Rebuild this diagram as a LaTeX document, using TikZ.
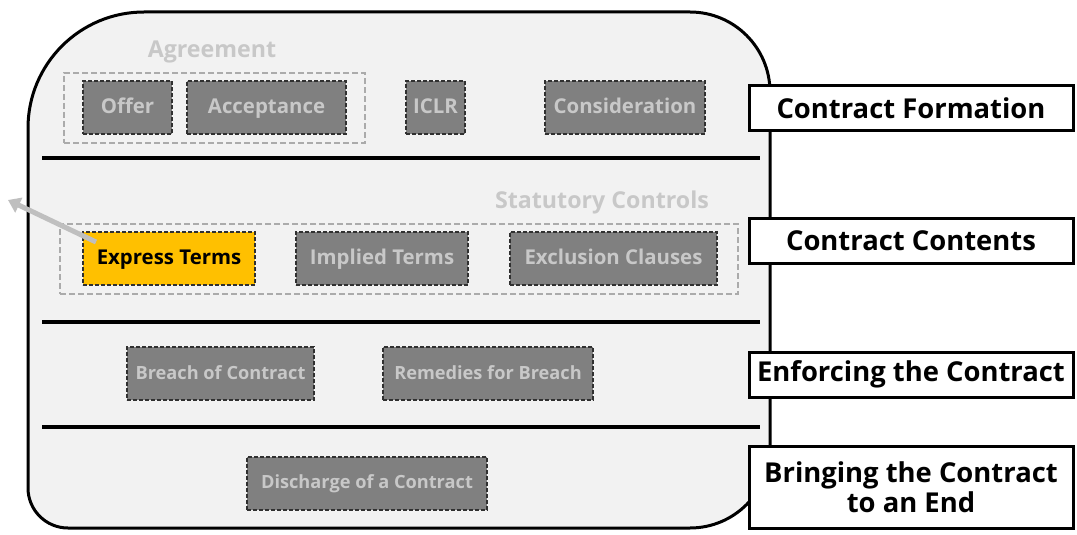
\documentclass[tikz,border=0pt]{standalone}
\usepackage{fontspec}
\setmainfont{Open Sans}
\usetikzlibrary{arrows.meta}
\definecolor{panelgray}{HTML}{F2F2F2}
\definecolor{itemgray}{HTML}{808080}
\definecolor{itemtext}{HTML}{C8C8C8}
\definecolor{itemedge}{HTML}{303030}
\definecolor{groupedge}{HTML}{ABABAB}
\definecolor{focus}{HTML}{FFC000}
\definecolor{pointergray}{HTML}{BFBFBF}

\begin{document}
\begin{tikzpicture}[x=0.5pt,y=-0.5pt]
  \tikzset{
    panel/.style={line width=1.5pt,fill=panelgray},
    divider/.style={line width=2pt},
    item/.style={rectangle,draw=itemedge,fill=itemgray,dashed,dash pattern=on 2pt off 1pt,line width=1pt,
      text=itemtext,font=\bfseries\fontsize{10.2}{12}\selectfont,minimum height=26.5pt,inner sep=0pt,
      text height=7.6pt,text depth=2pt},
    smallitem/.style={item,font=\bfseries\fontsize{9.1}{11}\selectfont},
    group/.style={rectangle,draw=groupedge,dashed,dash pattern=on 3pt off 1.5pt,line width=0.6pt,minimum height=35pt,inner sep=0pt},
    grouplabel/.style={text=itemtext,font=\bfseries\fontsize{11.6}{13}\selectfont,inner sep=0pt},
    stage/.style={rectangle,draw,fill=white,line width=1.5pt,minimum width=162pt,minimum height=22.5pt,
      align=center,font=\bfseries\fontsize{13.7}{15}\selectfont,inner sep=0pt},
    pointerarrow/.style={draw=pointergray,line width=2.5pt,-{Triangle[length=6pt,width=8pt]}}
  }

  % canvas and panel
  \useasboundingbox[fill=white] (0,0) rectangle (1077,535);
  \draw[panel] (400,12) [rounded corners=40pt] -- (770,12) [rounded corners=40pt] -- (770,528)
    [rounded corners=20pt] -- (28,528) [rounded corners=58pt] -- (28,12) -- cycle;

  \draw[divider] (42,158) -- (760,158);
  \draw[divider] (42,322) -- (760,322);
  \draw[divider] (42,427) -- (760,427);

  % formation
  \node[grouplabel] (agreementlbl) at (212,52) {Agreement};
  \node[group,minimum width=150.5pt] (agreement) at (214.5,108) {};
  \node[item,minimum width=44.5pt] (offer) at (127.5,108) {Offer};
  \node[item,minimum width=79.5pt] (acceptance) at (266.5,108) {Acceptance};
  \node[item,minimum width=29.5pt] (iclr) at (435.5,108) {ICLR};
  \node[item,minimum width=80pt] (consideration) at (625,108) {Consideration};

  % contents
  \node[grouplabel] (statutorylbl) at (602,202) {Statutory Controls};
  \node[group,minimum width=339pt] (statutory) at (399,259) {};
  \node[item,fill=focus,text=black,minimum width=86pt] (express) at (169,258.5) {Express Terms};
  \node[item,minimum width=86pt] (implied) at (382,258.5) {Implied Terms};
  \node[item,minimum width=103.5pt] (exclusion) at (613.5,258.5) {Exclusion Clauses};

  % enforcing and ending
  \node[smallitem,minimum width=93.5pt] (breach) at (220.5,373.5) {Breach of Contract};
  \node[smallitem,minimum width=105pt] (remedies) at (488,373.5) {Remedies for Breach};
  \node[smallitem,minimum width=120pt] (discharge) at (367,483) {Discharge of a Contract};

  % stages
  \node[stage] (formation) at (911,108.5) {Contract Formation};
  \node[stage] (contents) at (911,240.5) {Contract Contents};
  \node[stage] (enforcing) at (911,374.5) {Enforcing the Contract};
  \node[stage,minimum height=41pt] (ending) at (911,487) {Bringing the Contract\\to an End};

  \coordinate (pointer) at (8,200);
  \draw[pointerarrow] ([xshift=7pt,yshift=-5.5pt]express.north west) -- (pointer);
\end{tikzpicture}
\end{document}
